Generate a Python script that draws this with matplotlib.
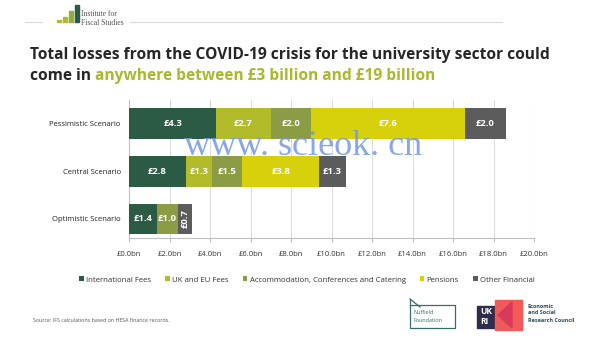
import matplotlib.pyplot as plt
from matplotlib.patches import Rectangle, Polygon
from matplotlib.lines import Line2D

# data (bottom to top)
scenarios = ['Optimistic Scenario', 'Central Scenario', 'Pessimistic Scenario']
components = ['International Fees', 'UK and EU Fees',
              'Accommodation, Conferences and Catering', 'Pensions', 'Other Financial']
intl_fees = [1.4, 2.8, 4.3]
uk_eu_fees = [0.0, 1.3, 2.7]
accommodation = [1.0, 1.5, 2.0]
pensions = [0.0, 3.8, 7.6]
other_fin = [0.7, 1.3, 2.0]
x_ticks = [0, 2, 4, 6, 8, 10, 12, 14, 16, 18, 20]

colors = ['#2b5a45', '#b2bb2a', '#8c9c44', '#d6d10a', '#5c5c5c']
series = [intl_fees, uk_eu_fees, accommodation, pensions, other_fin]

plt.rcParams['font.family'] = ['Open Sans', 'DejaVu Sans']

fig = plt.figure(figsize=(6.07, 3.42), dpi=100)
ax = fig.add_axes([129 / 607, 1 - 238 / 342, 405 / 607, 138 / 342])

ypos = list(range(len(scenarios)))
left = [0.0] * len(scenarios)
for name, vals, col in zip(components, series, colors):
    ax.barh(ypos, vals, left=left, height=0.65, color=col, label=name, zorder=3)
    for i, v in enumerate(vals):
        if v <= 0:
            continue
        cx = left[i] + v / 2
        rot = 90 if v < 0.9 else 0
        ax.text(cx, ypos[i], '£%.1f' % v, color='white', fontsize=6.8, fontweight='bold',
                ha='center', va='center', rotation=rot, zorder=4)
    left = [l + v for l, v in zip(left, vals)]

ax.set_xlim(0, 20)
ax.set_ylim(-0.4, 2.5)
ax.set_xticks(x_ticks)
ax.set_xticklabels(['£%.1fbn' % t for t in x_ticks], fontsize=5.5, color='#333333')
ax.set_yticks(ypos)
ax.set_yticklabels(scenarios, fontsize=5.5, color='#222222')
ax.tick_params(axis='y', length=0, pad=6)
ax.tick_params(axis='x', length=3, color='#bfbfbf', pad=6)
ax.grid(axis='x', color='#dcdcdc', linewidth=0.8, zorder=0)
for s in ['top', 'right']:
    ax.spines[s].set_visible(False)
ax.spines['left'].set_color('#bfbfbf')
ax.spines['bottom'].set_color('#bfbfbf')

handles, labels = ax.get_legend_handles_labels()
fig.legend(handles, labels, loc='center', bbox_to_anchor=(307 / 607, 1 - 280 / 342), ncol=5,
           frameon=False, fontsize=5.6, handlelength=0.6, handleheight=0.6,
           handletextpad=0.3, columnspacing=1.8, labelcolor='#333333')

# header
fig.add_artist(Line2D([25 / 607, 42 / 607], [1 - 22 / 342] * 2, color='#d9d9d9', lw=0.8))
fig.add_artist(Line2D([130 / 607, 502 / 607], [1 - 22 / 342] * 2, color='#d9d9d9', lw=0.8))
for bx, bh, bc in [(57, 2, '#b2bb2a'), (63, 5, '#b2bb2a'), (69, 11, '#8fae3a'), (75, 17, '#2b5a45')]:
    fig.add_artist(Rectangle((bx / 607, 1 - 22 / 342), 3.5 / 607, bh / 342,
                             color=bc, transform=fig.transFigure))
fig.text(81 / 607, 1 - 14 / 342, 'Institute for', fontsize=5.5, family='Liberation Serif',
         color='#555555', va='center')
fig.text(81 / 607, 1 - 23 / 342, 'Fiscal Studies', fontsize=5.5, family='Liberation Serif',
         color='#555555', va='center')

# title
fig.text(30 / 607, 1 - 55 / 342,
         'Total losses from the COVID-19 crisis for the university sector could',
         fontsize=11.2, fontweight='bold', color='#262626', va='center')
t1 = fig.text(30 / 607, 1 - 76 / 342, 'come in ', fontsize=11.2, fontweight='bold',
              color='#262626', va='center')
fig.canvas.draw()
bb = t1.get_window_extent()
fig.text(bb.x1 / fig.bbox.width, 1 - 76 / 342, 'anywhere between £3 billion and £19 billion',
         fontsize=11.2, fontweight='bold', color='#a9b82e', va='center')

# watermark
fig.text(303 / 607, 1 - 155 / 342, 'www. scieok. cn', fontsize=26, family='Liberation Serif',
         color='#7498e4', alpha=0.85, ha='center', va='baseline')

# footer
fig.text(33 / 607, 1 - 321 / 342, 'Source: IFS calculations based on HESA finance records.',
         fontsize=3.8, color='#555555', va='center')

# Nuffield logo
nf = '#3b6b6b'
fig.add_artist(Line2D([410 / 607, 410 / 607, 455 / 607, 455 / 607, 410 / 607],
                      [1 - 299 / 342, 1 - 328 / 342, 1 - 328 / 342, 1 - 305 / 342, 1 - 305 / 342],
                      color=nf, lw=0.9))
fig.add_artist(Line2D([410 / 607, 420 / 607], [1 - 299 / 342, 1 - 307 / 342], color=nf, lw=0.9))
fig.text(414 / 607, 1 - 313 / 342, 'Nuffield', fontsize=4, color=nf, va='center')
fig.text(414 / 607, 1 - 320 / 342, 'Foundation', fontsize=4, color=nf, va='center')

# UKRI logo
fig.add_artist(Rectangle((477 / 607, 1 - 328 / 342), 18 / 607, 22 / 342,
                         color='#2e2d4e', transform=fig.transFigure))
fig.add_artist(Polygon([(495 / 607, 1 - 300 / 342), (522 / 607, 1 - 300 / 342),
                        (522 / 607, 1 - 330 / 342), (495 / 607, 1 - 330 / 342)],
                       closed=True, color='#f05a5a', transform=fig.transFigure))
fig.add_artist(Polygon([(498 / 607, 1 - 315 / 342), (512 / 607, 1 - 302 / 342),
                        (512 / 607, 1 - 328 / 342)],
                       closed=True, color='#d83a5a', transform=fig.transFigure))
fig.text(480 / 607, 1 - 312 / 342, 'UK', fontsize=6, fontweight='bold', color='white', va='center')
fig.text(480 / 607, 1 - 322 / 342, 'RI', fontsize=6, fontweight='bold', color='white', va='center')
for k, line in enumerate(['Economic', 'and Social', 'Research Council']):
    fig.text(528 / 607, 1 - (306 + 7 * k) / 342, line, fontsize=4, fontweight='bold',
             color='#2e4e5e', va='center')

fig.savefig('out.png', dpi=100)
